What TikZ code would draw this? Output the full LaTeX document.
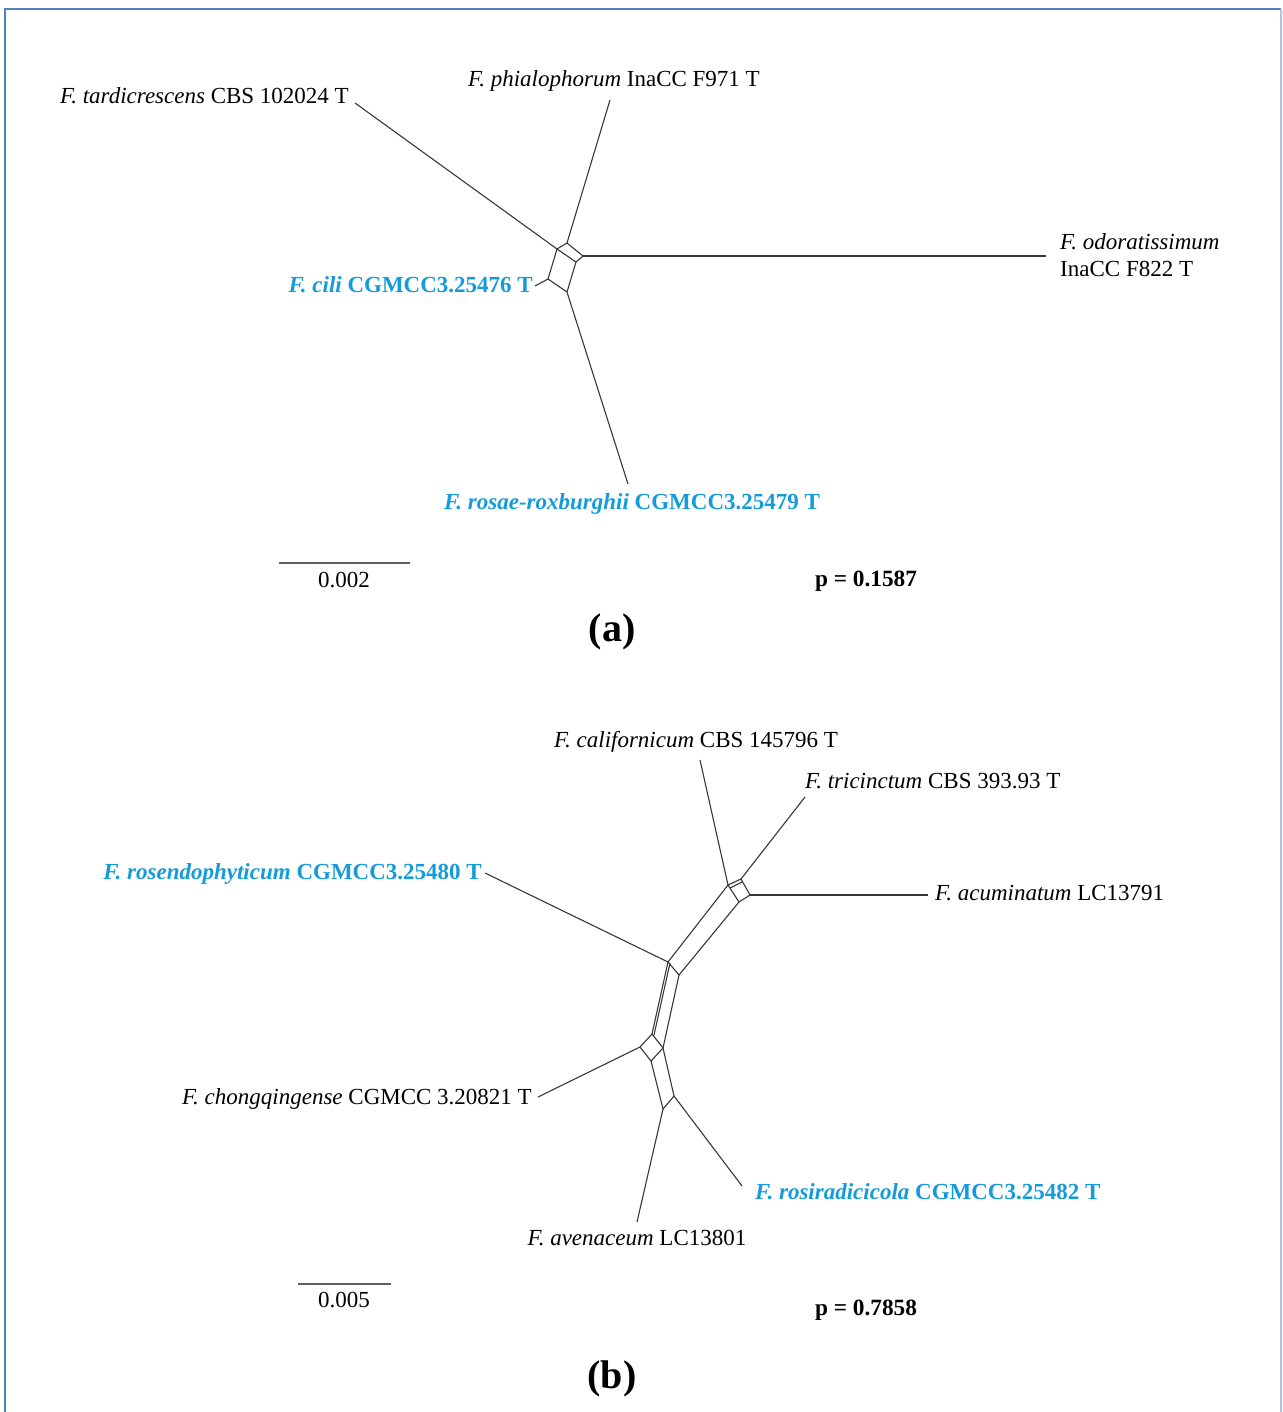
\documentclass[tikz,border=0pt]{standalone}
\usepackage{fontspec}
\setmainfont{Liberation Serif}
\definecolor{framecol}{RGB}{79,129,189}
\definecolor{framelight}{RGB}{170,198,230}
\definecolor{newsp}{RGB}{20,155,220}
\definecolor{edgecol}{RGB}{55,55,55}
\begin{document}
\begin{tikzpicture}[x=1pt,y=-1pt,
  lbl/.style={inner sep=0pt,font=\fontsize{23}{26}\selectfont},
  nlbl/.style={inner sep=0pt,font=\fontsize{23}{26}\selectfont\bfseries,text=newsp},
  pval/.style={inner sep=0pt,font=\fontsize{23.3}{26}\selectfont\bfseries},
  panel/.style={inner sep=0pt,font=\fontsize{40}{44}\selectfont\bfseries},
  edge/.style={draw=edgecol,line width=1.1pt,line join=round}]
\useasboundingbox (0,0) rectangle (1282,1412);
% frame
\draw[framecol,line width=2.5pt] (5,1412) -- (5,9) -- (1281,9);
\draw[framelight,line width=2pt] (1281,9) -- (1281,1412);

% ---------- panel (a) ----------
\coordinate (A) at (557,249);
\coordinate (B) at (567,243);
\coordinate (C) at (583,256);
\coordinate (D) at (576,262);
\coordinate (E) at (548,279);
\coordinate (F) at (567,292);
\draw[edge] (A) -- (B) -- (C) -- (D) -- cycle;
\draw[edge] (A) -- (E) -- (F) -- (D);

\node[lbl,anchor=base east] (ltard) at (349,104) {\textit{F. tardicrescens} CBS 102024 T};
\node[lbl,anchor=base] (lphia) at (614,87) {\textit{F. phialophorum} InaCC F971 T};
\node[lbl,anchor=base west] (lodor) at (1060,250) {\textit{F. odoratissimum}};
\node[lbl,anchor=base west] (lodor2) at (1060,277) {InaCC F822 T};
\node[nlbl,anchor=base east] (lcili) at (533,293) {\textit{F. cili} CGMCC3.25476 T};
\node[nlbl,anchor=base] (lrosae) at (632,509) {\textit{F. rosae-roxburghii} CGMCC3.25479 T};

\coordinate (etard) at (355,103);
\coordinate (ephia) at (610,100);
\coordinate (eodor) at (1046,256);
\coordinate (ecili) at (535,286);
\coordinate (erosae) at (628,484);
\draw[edge] (etard) -- (A);
\draw[edge] (ephia) -- (B);
\draw[edge] (eodor) -- (C);
\draw[edge] (ecili) -- (E);
\draw[edge] (erosae) -- (F);

\coordinate (sa1) at (279,563);
\coordinate (sa2) at (410,563);
\draw[edge,draw=edgecol!80] (sa1) -- (sa2);
\node[lbl,anchor=base] (lsa) at (344,587) {0.002};
\node[pval,anchor=base] (pa) at (866,586) {p = 0.1587};
\node[panel,anchor=base] (pna) at (612,641) {(a)};

% ---------- panel (b) ----------
\coordinate (P1) at (728,885);
\coordinate (P1b) at (730,888);
\coordinate (Q) at (741,879);
\coordinate (Qb) at (742,882);
\coordinate (R) at (750,895);
\coordinate (P2) at (739,902);
\coordinate (P3) at (668,962);
\coordinate (P3b) at (670,963);
\coordinate (P4) at (679,975);
\coordinate (DT) at (652,1034);
\coordinate (DTb) at (654,1035);
\coordinate (DL) at (640,1047);
\coordinate (DB) at (651,1061);
\coordinate (DR) at (663,1048);
\coordinate (G) at (674,1096);
\coordinate (H) at (663,1109);

\draw[edge] (P1) -- (Q) -- (R) -- (P2) -- cycle;
\draw[edge] (P1b) -- (Qb);
\draw[edge] (P1) -- (P3) -- (P4) -- (P2);
\draw[edge] (P3) -- (DT);
\draw[edge] (P3b) -- (DTb);
\draw[edge] (P4) -- (DR);
\draw[edge] (DT) -- (DR) -- (DB) -- (DL) -- cycle;
\draw[edge] (DR) -- (G) -- (H) -- (DB);

\node[lbl,anchor=base] (lcali) at (696,747) {\textit{F. californicum} CBS 145796 T};
\node[lbl,anchor=base west] (ltric) at (805,788) {\textit{F. tricinctum} CBS 393.93 T};
\node[nlbl,anchor=base east] (lrosen) at (482,879) {\textit{F. rosendophyticum} CGMCC3.25480 T};
\node[lbl,anchor=base west] (lacum) at (935,900) {\textit{F. acuminatum} LC13791};
\node[lbl,anchor=base east] (lchong) at (532,1104) {\textit{F. chongqingense} CGMCC 3.20821 T};
\node[nlbl,anchor=base west] (lrosir) at (755,1199) {\textit{F. rosiradicicola} CGMCC3.25482 T};
\node[lbl,anchor=base] (laven) at (637,1245) {\textit{F. avenaceum} LC13801};

\coordinate (ecali) at (700,760);
\coordinate (etric) at (805,797);
\coordinate (eacum) at (928,895);
\coordinate (erosen) at (485,873);
\coordinate (echong) at (538,1097);
\coordinate (erosir) at (742,1186);
\coordinate (eaven) at (637,1222);
\draw[edge] (ecali) -- (P1);
\draw[edge] (etric) -- (Q);
\draw[edge] (eacum) -- (R);
\draw[edge] (erosen) -- (P3);
\draw[edge] (echong) -- (DL);
\draw[edge] (erosir) -- (G);
\draw[edge] (eaven) -- (H);

\coordinate (sb1) at (298,1284);
\coordinate (sb2) at (391,1284);
\draw[edge,draw=edgecol!80] (sb1) -- (sb2);
\node[lbl,anchor=base] (lsb) at (344,1307) {0.005};
\node[pval,anchor=base] (pb) at (866,1315) {p = 0.7858};
\node[panel,anchor=base] (pnb) at (612,1388) {(b)};
\end{tikzpicture}
\end{document}
